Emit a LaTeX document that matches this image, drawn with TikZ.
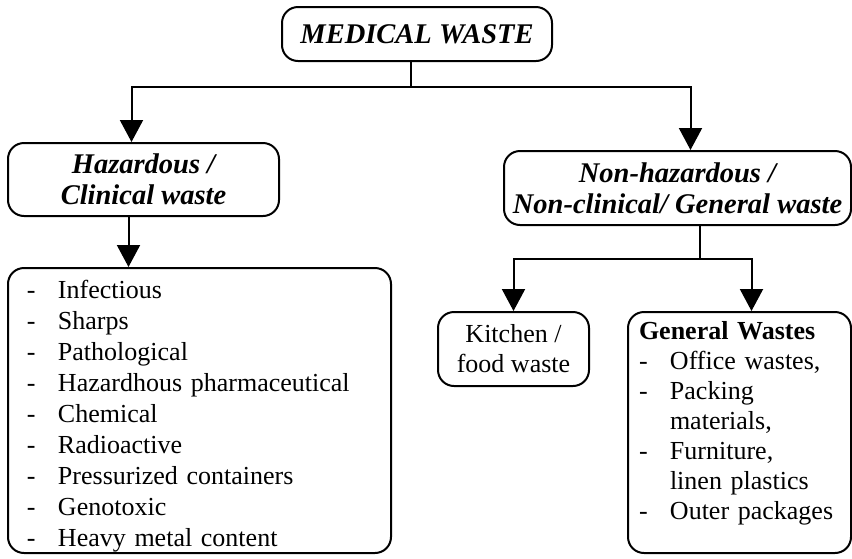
\documentclass[tikz,border=0pt]{standalone}
\usepackage{fontspec}
\setmainfont{Liberation Serif}
\usetikzlibrary{arrows.meta}
\newcommand{\wdash}{\makebox[31pt][l]{-}}
\newcommand{\wgap}{\hspace*{31pt}}
\tikzset{
  wbox/.style={draw, line width=2pt, rounded corners=16pt, inner sep=0pt, align=center},
  whead/.style={font=\fontsize{28.5}{31}\selectfont\bfseries\itshape},
  wbody/.style={font=\fontsize{26}{31}\selectfont},
  wline/.style={line width=2pt},
  warrow/.style={line width=2pt, -{Triangle[width=23pt,length=22pt]}},
}
\begin{document}
\begin{tikzpicture}[x=1pt,y=-1pt]
\useasboundingbox (0,0) rectangle (852,558);
\node[wbox,whead,minimum width=270pt,minimum height=54pt] (med) at (417,34) {MEDICAL WASTE};
%
\node[wbox,whead,minimum width=271pt,minimum height=73pt] (haz) at (143.5,179.5) {Hazardous /\\Clinical waste};
\node[wbox,whead,minimum width=347pt,minimum height=74pt] (nonhaz) at (677.5,188) {Non-hazardous /\\Non-clinical/ General waste};
%
\node[wbox,wbody,align=left,inner xsep=19pt,text width=345pt,minimum height=285pt] (clin) at (199.5,410.5)
  {\rule{0pt}{30pt}\wdash Infectious\\\wdash Sharps\\\wdash Pathological\\\wdash Hazardhous pharmaceutical\\\wdash Chemical\\
   \wdash Radioactive\\\wdash Pressurized containers\\\wdash Genotoxic\\\wdash Heavy metal content};
%
\node[wbox,wbody,font=\fontsize{26}{30}\selectfont,minimum width=151pt,minimum height=74pt] (kitchen) at (513.5,349) {Kitchen /\\food waste};
\node[wbox,wbody,font=\fontsize{26}{30}\selectfont,align=left,inner xsep=11pt,text width=201pt,minimum height=241pt] (gen) at (739.5,432.5)
  {\textbf{General Wastes}\\\wdash Office wastes,\\\wdash Packing\\\wgap materials,\\\wdash Furniture,\\
   \wgap linen plastics\\\wdash Outer packages\\[-14pt]\strut};
%
\draw[wline] ([xshift=-6pt]med.south) --++ (0,25) coordinate (medjoin);
\draw[warrow] (medjoin) -| ([xshift=-12pt]haz.north);
\draw[warrow] (medjoin) -| ([xshift=13pt]nonhaz.north);
%
\draw[warrow] ([xshift=-15pt]haz.south) -- ([xshift=-15pt]haz.south |- clin.north);
%
\draw[wline] ([xshift=22pt]nonhaz.south) --++ (0,33) coordinate (nonjoin);
\draw[warrow] (nonjoin) -| (kitchen.north);
\draw[warrow] (nonjoin) -| ([xshift=12pt]gen.north);
\end{tikzpicture}
\end{document}
